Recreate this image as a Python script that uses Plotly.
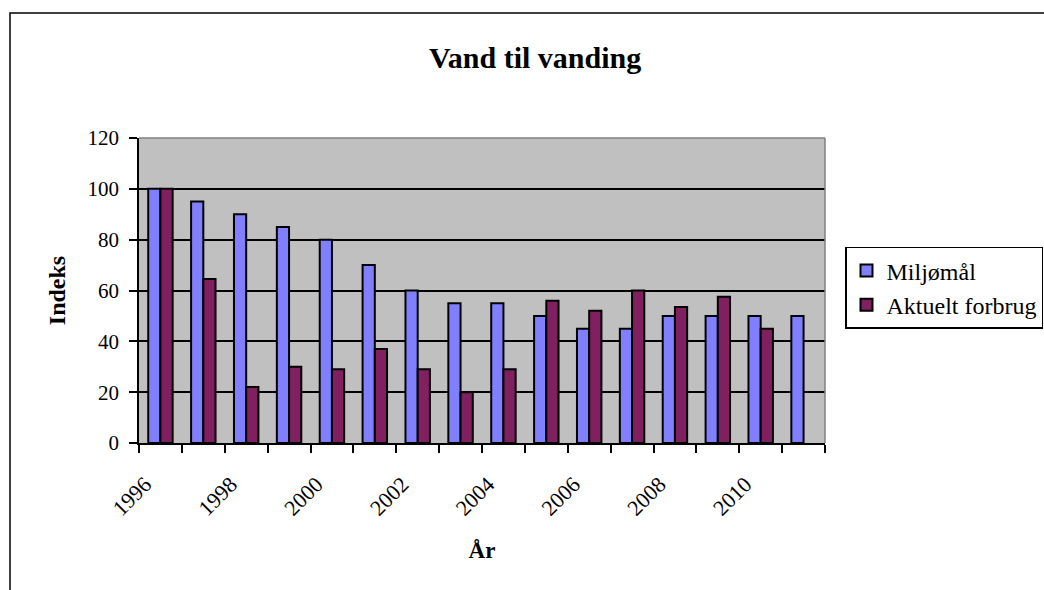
import plotly.graph_objects as go

years = list(range(1996, 2012))
miljomaal = [100, 95, 90, 85, 80, 70, 60, 55, 55, 50, 45, 45, 50, 50, 50, 50]
aktuelt = [100, 64.5, 22, 30, 29, 37, 29, 20, 29, 56, 52, 60, 53.5, 57.5, 45, None]
tick_years = list(range(1996, 2013))
tick_labels = [str(y) if (y % 2 == 0 and y <= 2010) else "" for y in tick_years]

FONT = "Liberation Serif"

fig = go.Figure()
fig.add_trace(go.Bar(x=years, y=miljomaal, name="Miljømål",
                     marker=dict(color="#8080FF", line=dict(color="black", width=2))))
fig.add_trace(go.Bar(x=years, y=aktuelt, name="Aktuelt forbrug",
                     marker=dict(color="#802060", line=dict(color="black", width=2))))

fig.update_layout(
    width=1044, height=590,
    margin=dict(l=139, r=219, t=138, b=147, autoexpand=False),
    paper_bgcolor="white", plot_bgcolor="#C0C0C0",
    barmode="group", bargap=0.43, bargroupgap=0,
    font=dict(family=FONT, size=21, color="black"),
    title=dict(text="<b>Vand til vanding</b>", x=0.5125, xanchor="center",
               y=0.903, yanchor="middle", font=dict(family=FONT, size=30)),
    legend=dict(x=(845 - 139) / 686, y=0.643, xanchor="left", yanchor="top",
                bgcolor="white", bordercolor="black", borderwidth=1.5,
                font=dict(family=FONT, size=24), traceorder="normal",
                itemsizing="constant"),
    showlegend=True,
)

fig.update_xaxes(
    type="linear", range=[1995.5, 2011.5],
    tickmode="array", tickvals=[y - 0.5 for y in tick_years], ticktext=tick_labels,
    tickangle=-45, ticks="outside", ticklen=8, tickwidth=1.5, tickcolor="black",
    showline=True, linecolor="black", linewidth=1.5, showgrid=False, zeroline=False,
    tickfont=dict(family=FONT, size=22), ticklabelstandoff=10, ticklabelshift=6,
    title=dict(text="<b>År</b>", font=dict(family=FONT, size=23), standoff=22),
    mirror=False,
)
fig.update_yaxes(
    range=[0, 120], tickvals=[0, 20, 40, 60, 80, 100, 120],
    ticks="outside", ticklen=8, tickwidth=1.5, tickcolor="black",
    showline=True, linecolor="black", linewidth=1.5,
    showgrid=True, gridcolor="black", gridwidth=1.5, zeroline=False,
    tickfont=dict(family=FONT, size=21), ticklabelstandoff=6,
    title=dict(text="<b>Indeks</b>", font=dict(family=FONT, size=24), standoff=15),
)

# grey border on top and right of plot area
fig.add_shape(type="line", xref="paper", yref="paper", x0=0, x1=1, y0=1, y1=1,
              line=dict(color="#808080", width=1.5))
fig.add_shape(type="line", xref="paper", yref="paper", x0=1, x1=1, y0=0, y1=1,
              line=dict(color="#808080", width=1.5))
# outer chart border
fig.add_shape(type="rect", xref="paper", yref="paper",
              x0=(10 - 139) / 686, x1=(1060 - 139) / 686,
              y0=(443 - 600) / 305, y1=(443 - 13) / 305,
              line=dict(color="black", width=1.5), layer="below")

fig.write_html("out.html", config={"displayModeBar": False},
               post_script="document.body.style.margin='0';")
